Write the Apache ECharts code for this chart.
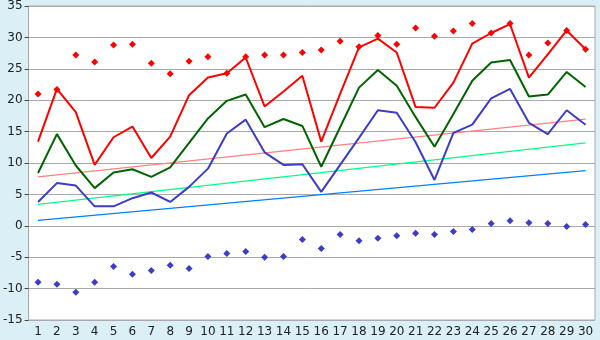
<!DOCTYPE html>
<html><head><meta charset="utf-8">
<script src="https://cdn.jsdelivr.net/npm/echarts@6/dist/echarts.min.js"></script>
<style>html,body{margin:0;padding:0;background:#daf0f6}#c{width:600px;height:340px}</style>
</head><body><div id="c"></div>
<script>
const categories = Array.from({length:30},(_,i)=>String(i+1));
const yTicks = [-15,-10,-5,0,5,10,15,20,25,30,35];
const maxAbs = [21.0,21.7,27.2,26.1,28.8,28.9,25.9,24.2,26.2,26.9,24.3,26.9,27.2,27.2,27.6,28.0,29.4,28.5,30.3,28.9,31.5,30.2,31.0,32.2,30.7,32.2,27.2,29.1,31.1,28.1];
const maxMean = [13.4,21.8,18.1,9.7,14.1,15.8,10.8,14.2,20.8,23.6,24.3,26.8,19.0,21.4,23.9,13.4,21.0,28.4,29.8,27.6,18.9,18.8,22.8,29.0,30.7,32.1,23.6,27.3,31.1,28.1];
const meanVals = [8.4,14.6,9.6,6.0,8.5,9.0,7.8,9.3,13.2,17.1,19.9,20.9,15.7,17.0,15.9,9.4,15.7,22.0,24.8,22.3,17.3,12.6,17.8,23.1,26.0,26.4,20.6,20.9,24.5,22.1];
const minMean = [3.8,6.8,6.4,3.1,3.1,4.4,5.3,3.8,6.2,9.1,14.7,16.9,11.7,9.7,9.8,5.4,9.7,14.0,18.4,18.0,13.3,7.3,14.8,16.1,20.3,21.8,16.4,14.6,18.4,16.1];
const minAbs = [-9.0,-9.3,-10.6,-9.0,-6.5,-7.7,-7.1,-6.3,-6.8,-4.9,-4.4,-4.1,-5.0,-4.9,-2.2,-3.6,-1.4,-2.4,-2.0,-1.6,-1.2,-1.4,-0.9,-0.6,0.35,0.8,0.5,0.35,-0.1,0.2];
const trendMaxEnds = [7.8,17.0];
const trendMeanEnds = [3.4,13.2];
const trendMinEnds = [0.85,8.8];

function ends(e){const a=new Array(categories.length).fill(null);a[0]=e[0];a[a.length-1]=e[1];return a;}
const chart = echarts.init(document.getElementById('c'),null,{renderer:'canvas'});
const font = 'DejaVu Sans';
function line(data,color,width,z){return {type:'line',data:data,symbol:'none',connectNulls:true,lineStyle:{color:color,width:width,opacity:1},itemStyle:{color:color},z:z,silent:true};}
function dots(data,color){return {type:'scatter',data:data,symbol:'diamond',symbolSize:7,itemStyle:{color:color,opacity:1},z:10,silent:true};}
chart.setOption({
  animation:false,
  backgroundColor:'#daf0f6',
  grid:{left:26,right:5,top:5,bottom:20,show:true,backgroundColor:'#ffffff',borderColor:'#aaaaaa',borderWidth:1},
  xAxis:{type:'category',data:categories,boundaryGap:true,
    axisLine:{lineStyle:{color:'#aaaaaa'}},
    axisTick:{alignWithLabel:true,length:4,lineStyle:{color:'#444'}},
    axisLabel:{color:'#222',fontFamily:font,fontSize:12,margin:6,interval:0},
    splitLine:{show:false}},
  yAxis:{type:'value',min:yTicks[0],max:yTicks[yTicks.length-1],interval:5,
    axisLine:{show:true,lineStyle:{color:'#aaaaaa'}},
    axisTick:{show:true,length:4,lineStyle:{color:'#444'}},
    axisLabel:{color:'#222',fontFamily:font,fontSize:12,margin:6},
    splitLine:{lineStyle:{color:'#aaaaaa',width:1}}},
  series:[
    line(ends(trendMaxEnds),'#ff8080',1.3,2),
    line(ends(trendMeanEnds),'#00ff80',1.3,2),
    line(ends(trendMinEnds),'#0080ff',1.3,2),
    line(meanVals,'#006400',2,3),
    line(minMean,'#3c3cc8',2,4),
    line(maxMean,'#ff0000',2,5),
    dots(maxAbs,'#ff0000'),
    dots(minAbs,'#3c3cc8')
  ]
});
</script></body></html>
